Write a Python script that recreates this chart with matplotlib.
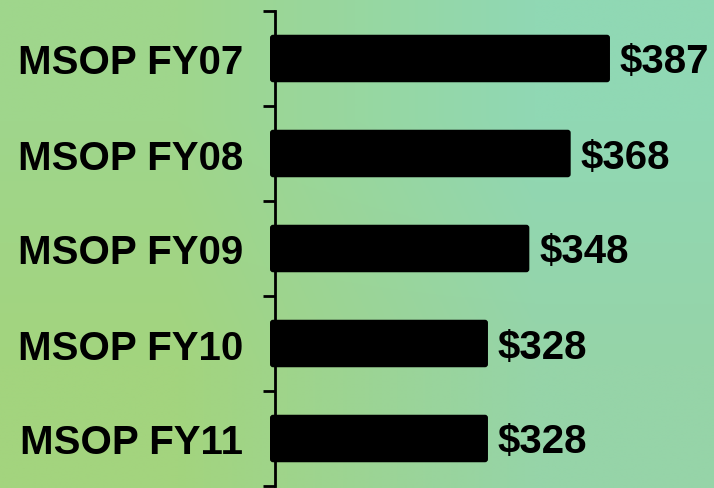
import numpy as np
import matplotlib.pyplot as plt
from matplotlib.patches import FancyBboxPatch

################################
# Data
################################
categories = ['MSOP FY07', 'MSOP FY08', 'MSOP FY09', 'MSOP FY10', 'MSOP FY11']
values = [387, 368, 348, 328, 328]
value_labels = ['$387', '$368', '$348', '$328', '$328']
base = 222.6

plt.rcParams['font.family'] = ['Liberation Sans', 'DejaVu Sans']

fig = plt.figure(figsize=(7.14, 4.89), dpi=100)

################################
# Background gradient
################################
bg = fig.add_axes([0, 0, 1, 1], zorder=-1)
corners = np.array([[[159, 214, 140], [144, 216, 180]],
                    [[163, 212, 126], [150, 212, 168]]]) / 255.0
bg.imshow(corners, interpolation='bilinear', aspect='auto', extent=[0, 1, 0, 1])
bg.set_axis_off()

################################
# Bars
################################
ax = fig.add_axes([275 / 714, 2 / 489, 1 - 275 / 714, 475 / 489])
ax.patch.set_alpha(0)

y = np.arange(len(categories))
widths = [v - base for v in values]
bars = ax.barh(y, widths, left=base, height=0.5, color='black')

px_x = 2.068  # px per unit
px_y = 95.0
ax.set_xlim(base + 5 / px_x, base + 5 / px_x + 439 / px_x)
ax.set_ylim(len(categories) - 0.5, -0.5)

# rounded corners
for b in bars:
    b.set_visible(False)
    rp = FancyBboxPatch((b.get_x(), b.get_y()), b.get_width(), b.get_height(),
                        boxstyle='round,pad=0,rounding_size=%f' % (3 / px_x),
                        mutation_aspect=(px_x / px_y),
                        facecolor='black', edgecolor='none', clip_on=False, zorder=3)
    ax.add_patch(rp)

for yi, v, lab in zip(y, values, value_labels):
    ax.annotate(lab, (v, yi), xytext=(10, -3), textcoords='offset pixels',
                va='center', ha='left', fontsize=29, fontweight='bold',
                color='black', annotation_clip=False)

ax.set_yticks(np.arange(len(categories) + 1) - 0.5)
ax.set_yticklabels([])
ax.set_yticks(y, minor=True)
ax.set_yticklabels(categories, minor=True, fontsize=29, fontweight='bold')
ax.tick_params(axis='y', which='major', direction='out', length=8.6, width=2)
ax.tick_params(axis='y', which='minor', length=0, pad=23)
ax.set_xticks([])

for s in ['top', 'right', 'bottom']:
    ax.spines[s].set_visible(False)
ax.spines['left'].set_linewidth(2)

fig.savefig('out.png', dpi=100)
